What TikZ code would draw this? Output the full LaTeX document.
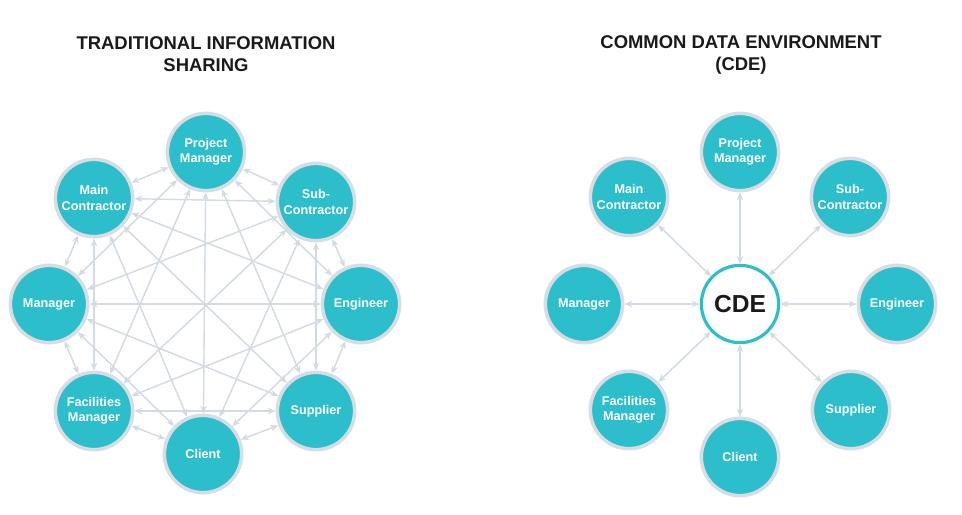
\documentclass[tikz,border=0pt]{standalone}
\usepackage{fontspec}
\setmainfont{Liberation Sans}
\usetikzlibrary{arrows.meta}
\definecolor{teal}{RGB}{44,190,203}
\definecolor{ringgray}{RGB}{214,222,228}
\definecolor{linkgray}{RGB}{210,218,226}
\definecolor{titleblack}{RGB}{26,26,26}
\tikzset{
  party/.style={circle,fill=teal,draw=ringgray,line width=2pt,minimum size=44pt,
    inner sep=0pt,align=center,text=white,font=\bfseries\fontsize{7.2}{8.8}\selectfont},
  hub/.style={circle,fill=white,draw=teal,line width=1.8pt,minimum size=44pt,
    inner sep=0pt,font=\bfseries\fontsize{14}{16}\selectfont,text=titleblack},
  link/.style={{Stealth[length=4.5pt,width=3.6pt]}-{Stealth[length=4.5pt,width=3.6pt]},
    draw=linkgray,line width=0.8pt},
  heading/.style={align=center,text=titleblack,font=\bfseries\fontsize{10.5}{12.5}\selectfont}
}
\begin{document}
\begin{tikzpicture}[x=0.02cm,y=-0.02cm]
\useasboundingbox[fill=white] (0,0) rectangle (962,514);
% Titles
\node[heading] (tleft) at (206,54) {TRADITIONAL INFORMATION\\SHARING};
\node[heading] (tright) at (741,55) {COMMON DATA ENVIRONMENT\\(CDE)};
% Left: every party linked to every other
\node[party] (L1) at (206,152) {Project\\Manager};
\node[party] (L2) at (316,202) {Sub-\\Contractor};
\node[party] (L3) at (361,304) {Engineer};
\node[party] (L4) at (316,411) {Supplier};
\node[party] (L5) at (203,454) {Client};
\node[party] (L6) at (94,411) {Facilities\\Manager};
\node[party] (L7) at (49,304) {Manager};
\node[party] (L8) at (94,198) {Main\\Contractor};
\foreach \i in {1,...,7}{
  \pgfmathtruncatemacro\k{\i+1}
  \foreach \j in {\k,...,8}{\draw[link] (L\i) -- (L\j);}
}
% Right: every party linked to the CDE only
\node[hub] (cde) at (740,304) {CDE};
\node[party] (R1) at (740,152) {Project\\Manager};
\node[party] (R2) at (850,197) {Sub-\\Contractor};
\node[party] (R3) at (897,304) {Engineer};
\node[party] (R4) at (851,410) {Supplier};
\node[party] (R5) at (740,457) {Client};
\node[party] (R6) at (629,410) {Facilities\\Manager};
\node[party] (R7) at (584,304) {Manager};
\node[party] (R8) at (629,197) {Main\\Contractor};
\foreach \i in {1,...,8}{\draw[link] (cde) -- (R\i);}
\end{tikzpicture}
\end{document}
